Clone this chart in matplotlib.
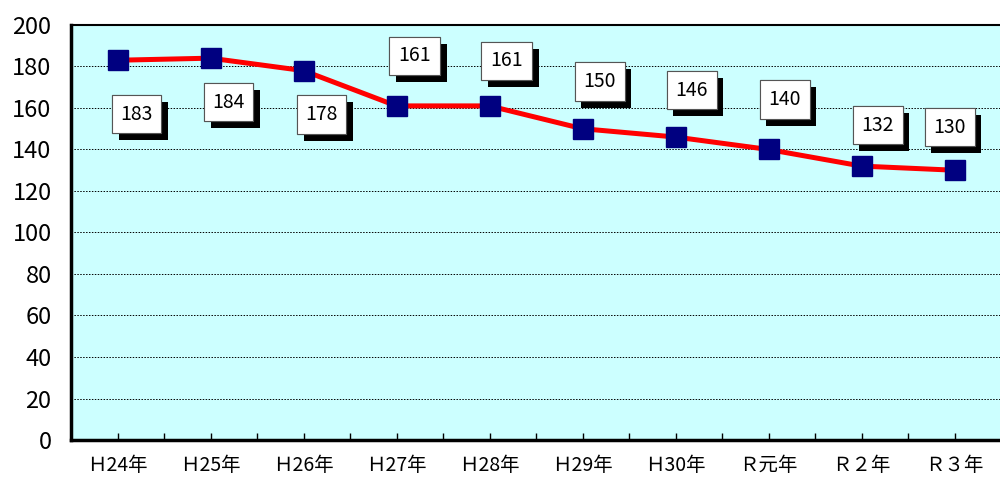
import numpy as np, matplotlib; matplotlib.use('Agg'); import matplotlib.pyplot as plt
import matplotlib.patheffects as pe

plt.rcParams['font.family'] = ['Noto Sans CJK JP', 'DejaVu Sans']

years = ['Ｈ24年', 'Ｈ25年', 'Ｈ26年', 'Ｈ27年', 'Ｈ28年', 'Ｈ29年', 'Ｈ30年', 'Ｒ元年', 'Ｒ２年', 'Ｒ３年']
values = [183, 184, 178, 161, 161, 150, 146, 140, 132, 130]
# label box offsets in pixels from each point
lbl_dx = [19, 18, 18, 18, 17, 17, 16, 16, 16, -5]
lbl_dy = [-54, -44, -44, 50, 45, 47, 47, 50, 41, 43]

fig = plt.figure(figsize=(10, 4.8), dpi=100)
ax = fig.add_axes([0.071, 0.0833, 0.93, 0.8647])
ax.set_facecolor('#ccffff')
x = np.arange(len(years))
ax.plot(x, values, '-', color='#ff0000', lw=3.6, zorder=3)
ax.plot(x, values, 's', color='#000080', ms=15, zorder=4)

for xi, v, dx, dy in zip(x, values, lbl_dx, lbl_dy):
    t = ax.annotate(str(v), (xi, v), xytext=(dx, dy), textcoords='offset pixels',
                    ha='center', va='center', fontsize=14, zorder=6,
                    bbox=dict(boxstyle='square,pad=0.45', fc='white', ec='#555555', lw=0.8))
    t.get_bbox_patch().set_path_effects([pe.withSimplePatchShadow(offset=(5, -5), shadow_rgbFace='black', alpha=1.0), pe.Normal()])

ax.set_xlim(-0.5, len(years) - 0.5)
ax.set_ylim(0, 200)
ax.set_yticks(np.arange(0, 201, 20))
ax.set_xticks(x)
ax.set_xticklabels(years, fontsize=14)
ax.set_xticks(np.arange(-0.5, len(years), 1.0), minor=True)
ax.tick_params(axis='x', which='both', direction='in', length=5, width=1, pad=11)
ax.tick_params(axis='y', length=0, labelsize=17, pad=14)
ax.yaxis.grid(True, color='black', ls=(0, (1.5, 1.5)), lw=0.7)
ax.set_axisbelow(True)
for s in ['left', 'bottom']:
    ax.spines[s].set_linewidth(2.5)
ax.spines['top'].set_linewidth(1.5)
ax.spines['right'].set_visible(False)

fig.savefig('out.png', dpi=100)
plt.close(fig)
